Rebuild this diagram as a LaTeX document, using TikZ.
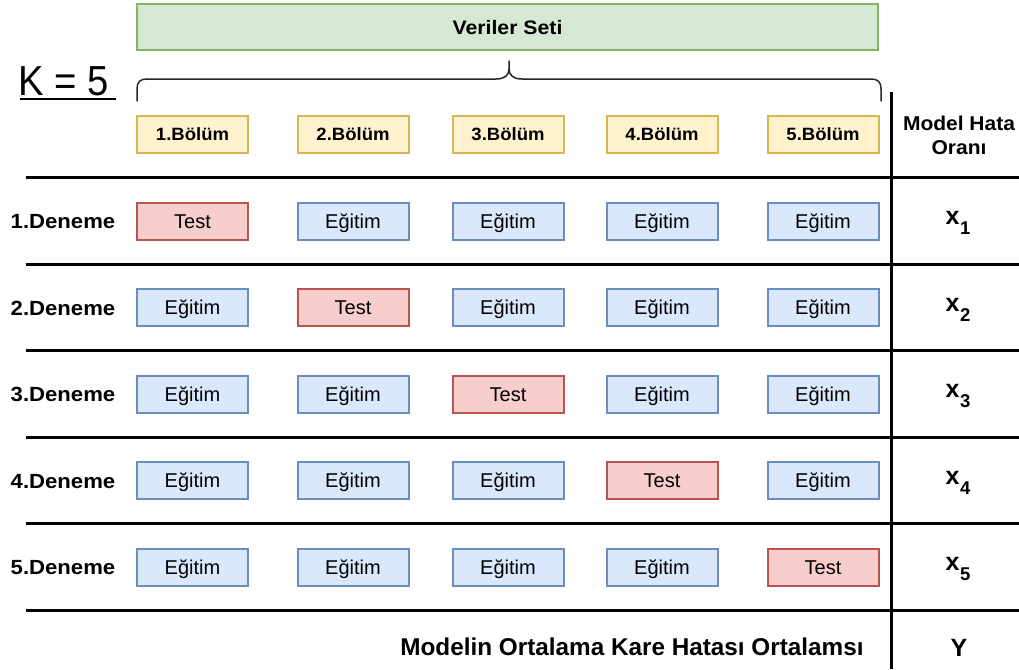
\documentclass[tikz,border=0pt]{standalone}
\usepackage{fontspec}
\setmainfont{Liberation Sans}
\usepackage{graphicx}

% draw.io palette
\definecolor{setfill}{HTML}{D5E8D4}\definecolor{setdraw}{HTML}{82B366}
\definecolor{partfill}{HTML}{FFF2CC}\definecolor{partdraw}{HTML}{D6B656}
\definecolor{testfill}{HTML}{F8CECC}\definecolor{testdraw}{HTML}{B85450}
\definecolor{trainfill}{HTML}{DAE8FC}\definecolor{traindraw}{HTML}{6C8EBF}

\begin{document}
\begin{tikzpicture}[x=1pt,y=-1pt,
  cell/.style={rectangle, minimum width=111pt, minimum height=37pt,
    line width=2pt, inner sep=0pt, text height=14.3pt, text depth=0pt,
    font=\fontsize{20}{24}\selectfont},
  testcell/.style={cell, fill=testfill, draw=testdraw},
  traincell/.style={cell, fill=trainfill, draw=traindraw},
  partcell/.style={cell, fill=partfill, draw=partdraw, text height=12.7pt,
    font=\fontsize{17.8}{21}\selectfont\bfseries},
  setbox/.style={rectangle, minimum width=741pt, minimum height=46pt,
    line width=2pt, inner sep=0pt, fill=setfill, draw=setdraw,
    text height=14pt, text depth=0pt,
    font=\fontsize{19.5}{24}\selectfont\bfseries},
  rowlabel/.style={inner sep=0pt, text height=14.7pt, text depth=0pt,
    font=\fontsize{20.5}{24}\selectfont\bfseries},
  errlabel/.style={anchor=base, inner sep=0pt,
    font=\fontsize{25}{26}\selectfont\bfseries},
  headlabel/.style={anchor=base, inner sep=0pt,
    font=\fontsize{20}{24}\selectfont\bfseries},
  rule/.style={line width=3pt, black},
  bracestroke/.style={line width=1.5pt, black!85, line cap=round, line join=round},
]
\useasboundingbox (0,0) rectangle (1019,669);

% data set and the K label
\node[setbox] (set) at (507.5,27.5) {\scalebox{1.09}[1]{Veriler Seti}};
\node[anchor=base west, inner sep=0pt, font=\fontsize{42}{44}\selectfont]
  (kval) at (18,95) {\scalebox{0.91}[1]{K = 5}};
\draw[line width=2pt] (20,99) -- (116,99);

% curly brace over the folds
\draw[bracestroke] (137,101) -- (137,89) .. controls (137,82) and (140,79) .. (147,79)
  -- (496,79) .. controls (505,79) and (509,75) .. (509,69) -- (509,61);
\draw[bracestroke] (509,69) .. controls (509,75) and (513,79) .. (522,79)
  -- (871,79) .. controls (878,79) and (881,82) .. (881,89) -- (881,101);

% fold headers
\foreach \c/\cx in {1/192.5,2/353,3/508,4/662,5/823}{
  \node[partcell] (part\c) at (\cx,134.5) {\scalebox{1.04}[1]{\c.Bölüm}};
}

% error column header
\node[headlabel] (head1) at (959,130.7) {\scalebox{1.05}[1]{Model Hata}};
\node[headlabel] (head2) at (959,154) {\scalebox{1.05}[1]{Oranı}};

% table rules
\foreach \k in {0,...,5}{
  \pgfmathsetmacro{\ry}{177.5+86.5*\k}
  \draw[rule] (26,\ry) -- (1019,\ry);
}
\draw[rule] (891,92) -- (891,669);

% trials
\foreach \r in {1,...,5}{
  \pgfmathsetmacro{\cy}{221.2+86.5*(\r-1)}
  \node[rowlabel] (trial\r) at (63,\cy) {\scalebox{1.08}[1]{\r.Deneme}};
  \foreach \c/\cx in {1/192.5,2/353,3/508,4/662,5/823}{
    \ifnum\r=\c
      \node[testcell] (cell\r\c) at (\cx,\cy) {Test};
    \else
      \node[traincell] (cell\r\c) at (\cx,\cy) {Eğitim};
    \fi
  }
  \node[errlabel] (err\r) at (958,\cy+3.5)
    {x\kern0.5pt\raisebox{-10pt}{\fontsize{18.5}{19}\selectfont\r}};
}

% summary row
\node[anchor=base, inner sep=0pt, font=\fontsize{24.3}{28}\selectfont\bfseries]
  (mean) at (632,655.7) {Modelin Ortalama Kare Hatası Ortalamsı};
\node[anchor=base, inner sep=0pt, font=\fontsize{25}{28}\selectfont\bfseries]
  (meany) at (959,656.7) {Y};
\end{tikzpicture}
\end{document}
